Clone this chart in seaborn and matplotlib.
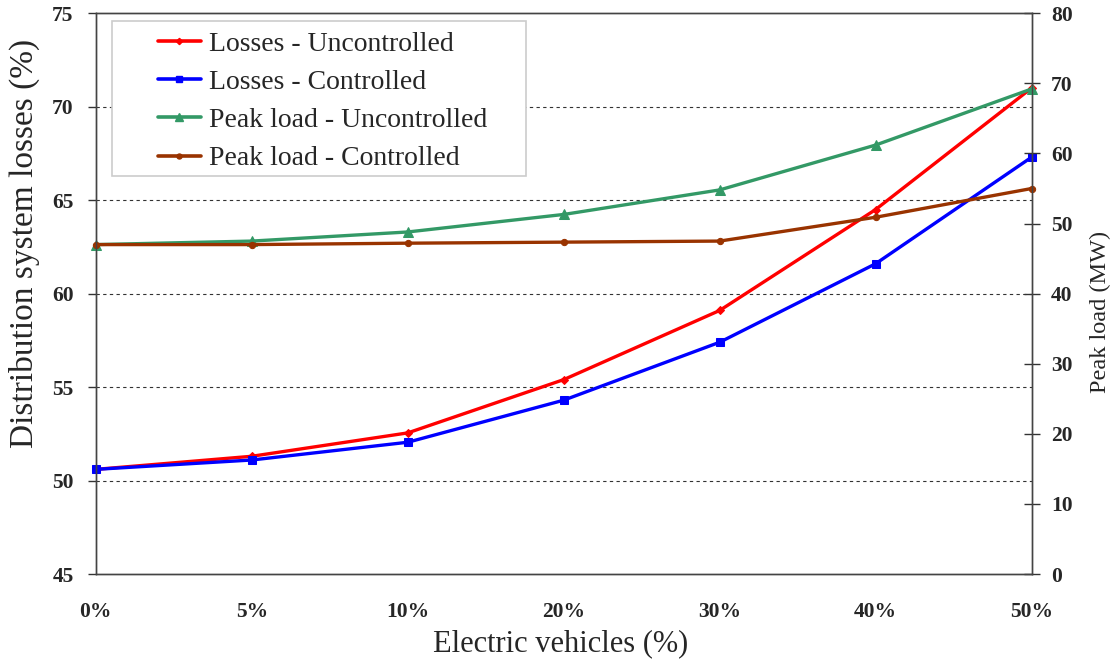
import matplotlib
matplotlib.use("Agg")
import matplotlib.pyplot as plt
import seaborn as sns
import pandas as pd
from matplotlib.lines import Line2D
from matplotlib.patches import Rectangle

sns.set_style("white")
plt.rcParams["font.family"] = ["Liberation Serif", "DejaVu Serif"]

ev_share = ["0%", "5%", "10%", "20%", "30%", "40%", "50%"]
losses_uncontrolled = [50.6, 51.3, 52.55, 55.4, 59.1, 64.5, 71.0]
losses_controlled = [50.6, 51.1, 52.05, 54.3, 57.4, 61.6, 67.3]
peak_uncontrolled = [47.0, 47.5, 48.8, 51.3, 54.8, 61.2, 69.2]
peak_controlled = [47.0, 47.0, 47.2, 47.35, 47.5, 50.9, 55.0]

pos = list(range(len(ev_share)))
df_loss = pd.DataFrame({
    "pos": pos * 2,
    "value": losses_uncontrolled + losses_controlled,
    "series": ["Losses - Uncontrolled"] * 7 + ["Losses - Controlled"] * 7,
})
df_peak = pd.DataFrame({
    "pos": pos * 2,
    "value": peak_uncontrolled + peak_controlled,
    "series": ["Peak load - Uncontrolled"] * 7 + ["Peak load - Controlled"] * 7,
})

colors = {
    "Losses - Uncontrolled": "#FF0000",
    "Losses - Controlled": "#0000FF",
    "Peak load - Uncontrolled": "#339966",
    "Peak load - Controlled": "#993300",
}
markers = {
    "Losses - Uncontrolled": "D",
    "Losses - Controlled": "s",
    "Peak load - Uncontrolled": "^",
    "Peak load - Controlled": "o",
}
msizes = {
    "Losses - Uncontrolled": 4,
    "Losses - Controlled": 6,
    "Peak load - Uncontrolled": 7,
    "Peak load - Controlled": 4.5,
}

fig, ax = plt.subplots(figsize=(11.14, 6.64), dpi=100)
fig.subplots_adjust(left=0.086, right=0.926, top=0.980, bottom=0.1355)
ax2 = ax.twinx()

for name, sub in df_loss.groupby("series", sort=False):
    sns.lineplot(data=sub, x="pos", y="value", ax=ax, color=colors[name],
                 marker=markers[name], markersize=msizes[name],
                 markeredgecolor=colors[name], linewidth=2.4, label=name,
                 legend=False, clip_on=False)
for name, sub in df_peak.groupby("series", sort=False):
    sns.lineplot(data=sub, x="pos", y="value", ax=ax2, color=colors[name],
                 marker=markers[name], markersize=msizes[name],
                 markeredgecolor=colors[name], linewidth=2.4, label=name,
                 legend=False, clip_on=False)

ax.set_xlim(0, 6)
ax.set_ylim(45, 75)
ax2.set_ylim(0, 80)
ax.set_xticks(pos)
ax.set_xticklabels(ev_share)
ax.set_yticks(range(45, 80, 5))
ax2.set_yticks(range(0, 90, 10))

for gy in [50, 55, 60, 65, 70]:
    ax.axhline(gy, color="#333333", linestyle=(0, (3, 3)), linewidth=0.8, zorder=0)

for lab in ax.get_xticklabels() + ax.get_yticklabels() + ax2.get_yticklabels():
    lab.set_fontsize(15.5)
    lab.set_fontweight("bold")

ax.tick_params(axis="y", direction="out", length=6, width=1, color="#333333", pad=10)
ax.tick_params(axis="x", direction="out", length=6, width=1, color="#333333", pad=14)
ax2.tick_params(axis="y", direction="inout", length=12, width=1, color="#333333", pad=8)

ax.set_xlabel("Electric vehicles (%)", fontsize=22)
ax.set_ylabel("Distribution system losses (%)", fontsize=24)
ax2.set_ylabel("Peak load (MW)", fontsize=17.5)
ax.xaxis.set_label_coords(0.497, -0.099)
ax.yaxis.set_label_coords(-0.060, 0.59)
ax2.yaxis.set_label_coords(1.062, 0.467)

for a in (ax, ax2):
    for s in a.spines.values():
        s.set_color("#444444")
        s.set_linewidth(1.0)

# legend frame drawn separately so the entries can sit with a wide left margin
frame_x0, frame_y0 = (112 - 96) / 936, (574 - 176) / 561
frame_w, frame_h = (526 - 112) / 936, (176 - 21) / 561
ax2.add_patch(Rectangle((frame_x0, frame_y0), frame_w, frame_h, transform=ax2.transAxes,
                        facecolor="white", edgecolor="#CCCCCC", linewidth=1.2, zorder=5))

handles = [Line2D([0], [0], color=colors[n], marker=markers[n], markersize=msizes[n] * 0.8,
                  linewidth=2.6) for n in colors]
leg = ax2.legend(handles, list(colors.keys()), loc="upper left",
                 bbox_to_anchor=((158 - 96) / 936, (574 - 31) / 561), fontsize=20,
                 frameon=False, handlelength=1.55, handletextpad=0.3,
                 borderpad=0.0, labelspacing=0.46, borderaxespad=0)
leg.set_zorder(6)

fig.savefig("out.png", dpi=100)
